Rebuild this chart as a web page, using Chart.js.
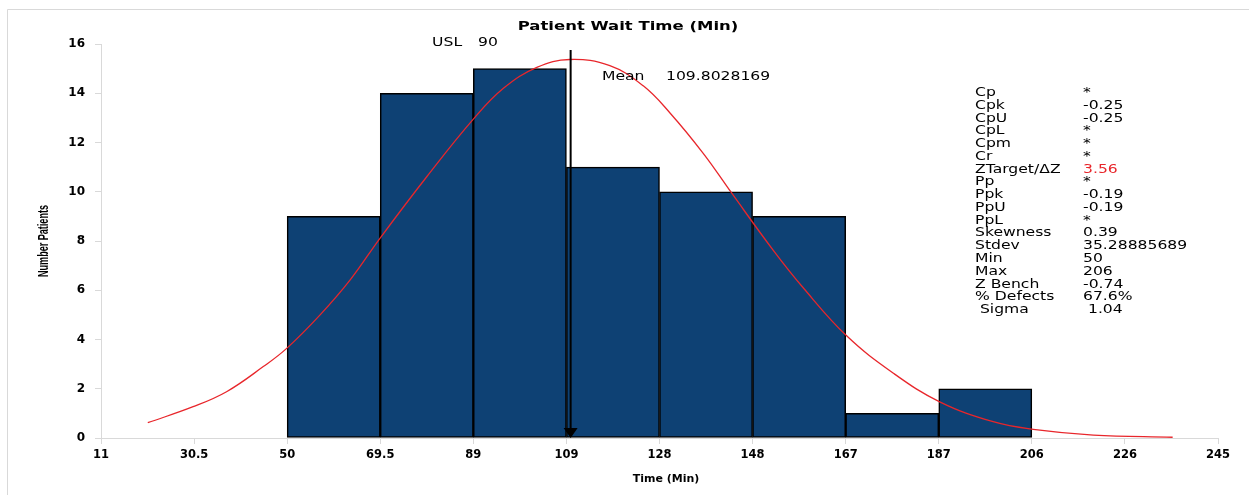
<!DOCTYPE html>
<html>
<head>
<meta charset="utf-8">
<title>Patient Wait Time (Min)</title>
<script src="https://cdn.jsdelivr.net/npm/chart.js@4.4.1/dist/chart.umd.min.js"></script>
<style>
  html, body { margin: 0; padding: 0; background: #fff; }
  #wrap { position: relative; width: 1249px; height: 495px; }
</style>
</head>
<body>
<div id="wrap"><canvas id="waitChart"></canvas></div>
<script>
// Histogram bins (Min)
const binStarts = [50, 69.5, 89, 108.5, 128, 147.5, 167, 186.5];
const binWidth = 19.5;
const patientCounts = [9, 14, 15, 11, 10, 9, 1, 2];

// Fitted normal curve
const curveX = [20.8, 30.3, 37.3, 45.0, 49.9, 56.9, 63.2, 69.4, 79.2, 89.0, 95.3, 102.3, 109.2,
  117.6, 124.6, 130.2, 137.2, 143.1, 151.8, 158.1, 167.2, 177.0, 186.7, 197.9,
  206.3, 218.9, 235.5];
const curveY = [0.62, 1.27, 1.88, 2.90, 3.64, 5.0, 6.42, 8.1, 10.6, 12.95, 14.2, 15.05, 15.37,
  15.12, 14.3, 13.2, 11.55, 9.95, 7.63, 6.1, 4.15, 2.63, 1.47, 0.66,
  0.35, 0.12, 0.03];

// Axis ticks
const xTickValues = [11, 30.5, 50, 69.5, 89, 108.5, 128, 147.5, 167, 186.5, 206, 225.5, 245];
const xTickLabels = ['11', '30.5', '50', '69.5', '89', '109', '128', '148', '167', '187', '206', '226', '245'];

const meanValue = 109.8028169;
const uslValue = 90;

// Capability summary
const statLabels = ['Cp', 'Cpk', 'CpU', 'CpL', 'Cpm', 'Cr', 'ZTarget/\u0394Z', 'Pp', 'Ppk', 'PpU', 'PpL',
  'Skewness', 'Stdev', 'Min', 'Max', 'Z Bench', '% Defects', ' Sigma'];
const statValues = ['*', '-0.25', '-0.25', '*', '*', '*', '3.56', '*', '-0.19', '-0.19', '*',
  '0.39', '35.28885689', '50', '206', '-0.74', '67.6%', ' 1.04'];
const statHighlight = 6;

// text boxes in the original are stretched sideways
function wideText(ctx, text, x, y, sx, align) {
  ctx.save();
  ctx.translate(x, y);
  ctx.scale(sx, 1);
  ctx.textAlign = align || 'left';
  ctx.fillText(text, 0, 0);
  ctx.restore();
}

const extras = {
  id: 'extras',
  beforeDraw(chart) {
    const ctx = chart.ctx;
    ctx.save();
    ctx.fillStyle = '#fff';
    ctx.fillRect(0, 0, chart.width, chart.height);
    ctx.strokeStyle = '#d9d9d9';
    ctx.lineWidth = 1;
    ctx.beginPath();
    ctx.moveTo(7.5, chart.height + 5);
    ctx.lineTo(7.5, 9.5);
    ctx.lineTo(chart.width + 5, 9.5);
    ctx.stroke();
    ctx.restore();
  },
  afterDatasetsDraw(chart) {
    const ctx = chart.ctx;
    const area = chart.chartArea;
    const xs = chart.scales.x;

    // mean arrow
    const mx = xs.getPixelForValue(meanValue) - 2;
    ctx.save();
    ctx.strokeStyle = '#000';
    ctx.fillStyle = '#000';
    ctx.lineWidth = 2;
    ctx.beginPath();
    ctx.moveTo(mx, area.top + 6);
    ctx.lineTo(mx, area.bottom - 9);
    ctx.stroke();
    ctx.beginPath();
    ctx.moveTo(mx - 7, area.bottom - 10);
    ctx.lineTo(mx + 7, area.bottom - 10);
    ctx.lineTo(mx, area.bottom);
    ctx.closePath();
    ctx.fill();

    // title
    ctx.textBaseline = 'middle';
    ctx.fillStyle = '#000';
    ctx.font = 'bold 12.3px "DejaVu Sans"';
    wideText(ctx, 'Patient Wait Time (Min)', 628, 27, 1.34, 'center');

    // axis titles
    ctx.font = 'bold 11px "DejaVu Sans"';
    ctx.textAlign = 'center';
    ctx.fillText('Time (Min)', 666, 479);

    ctx.save();
    ctx.translate(44, 241);
    ctx.rotate(-Math.PI / 2);
    ctx.font = 'bold 15px "Liberation Sans Narrow", "Liberation Sans"';
    const yt = 'Number Patients';
    const sw = 72 / ctx.measureText(yt).width;
    ctx.scale(sw, 1);
    ctx.fillText(yt, 0, 0);
    ctx.restore();

    // USL and mean labels
    ctx.font = '12px "DejaVu Sans"';
    const ux = xs.getPixelForValue(uslValue);
    wideText(ctx, 'USL', ux - 46, 43, 1.3);
    wideText(ctx, String(uslValue), ux, 43, 1.3);
    wideText(ctx, 'Mean', 602, 77, 1.3);
    wideText(ctx, String(meanValue), 666, 77, 1.3);

    // stats table
    statLabels.forEach((label, i) => {
      const y = 93 + i * 12.76;
      ctx.fillStyle = '#000';
      wideText(ctx, label, 975, y, 1.3);
      ctx.fillStyle = i === statHighlight ? '#e8262b' : '#000';
      wideText(ctx, statValues[i], 1083, y, 1.3);
    });
    ctx.restore();
  }
};

document.addEventListener('DOMContentLoaded', function() {
  const ctx = document.getElementById('waitChart');
  new Chart(ctx, {
    type: 'bar',
    data: {
      datasets: [
        {
          type: 'line',
          label: 'Normal',
          data: curveX.map((x, i) => ({ x: x, y: curveY[i] })),
          borderColor: '#e8262b',
          borderWidth: 1.3,
          pointRadius: 0,
          tension: 0.4,
          order: 0
        },
        {
          type: 'bar',
          label: 'Number Patients',
          data: binStarts.map((s, i) => ({ x: s + binWidth / 2, y: patientCounts[i] })),
          backgroundColor: '#0e4174',
          borderColor: '#000',
          borderWidth: 1.5,
          borderSkipped: false,
          barPercentage: 1,
          categoryPercentage: 1,
          order: 1
        }
      ]
    },
    options: {
      responsive: true,
      maintainAspectRatio: false,
      animation: false,
      layout: { padding: { top: 44, right: 31, left: 0, bottom: 0 } },
      plugins: { legend: { display: false }, tooltip: { enabled: false } },
      scales: {
        x: {
          type: 'linear',
          min: 11,
          max: 245,
          offset: false,
          afterBuildTicks: s => { s.ticks = xTickValues.map(v => ({ value: v })); },
          afterFit: s => { s.height = 57; },
          ticks: {
            callback: (v, i) => xTickLabels[i],
            font: { family: 'DejaVu Sans', size: 11.5, weight: 'bold' },
            color: '#000',
            padding: 4,
            maxRotation: 0,
            autoSkip: false
          },
          grid: { offset: false, drawOnChartArea: false, tickLength: 6, color: '#d9d9d9' },
          border: { color: '#d9d9d9' }
        },
        y: {
          min: 0,
          max: 16,
          afterFit: s => { s.width = 101; },
          ticks: {
            stepSize: 2,
            font: { family: 'DejaVu Sans', size: 12, weight: 'bold' },
            color: '#000',
            padding: 10
          },
          grid: { drawOnChartArea: false, tickLength: 6, color: '#d9d9d9' },
          border: { color: '#d9d9d9' }
        }
      }
    },
    plugins: [extras]
  });
});
</script>
</body>
</html>
